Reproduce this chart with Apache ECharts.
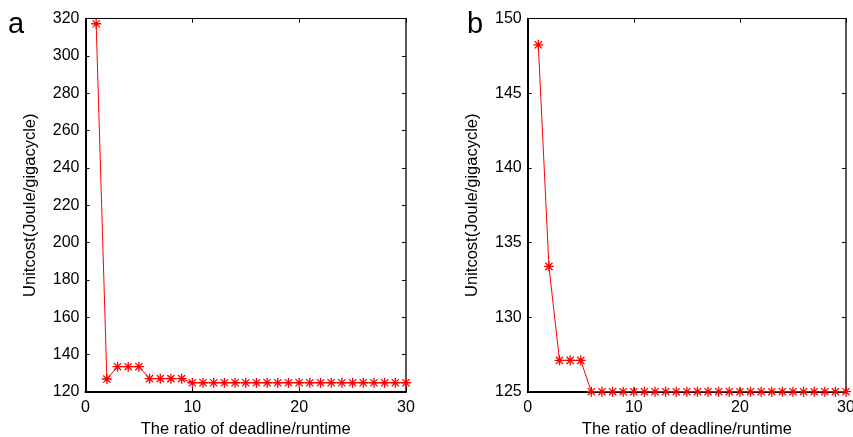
<!DOCTYPE html>
<html>
<head>
<meta charset="utf-8">
<script src="https://cdn.jsdelivr.net/npm/echarts@6/dist/echarts.min.js"></script>
<style>
  html, body { margin: 0; padding: 0; background: #fff; }
  #chart { width: 853px; height: 437px; }
</style>
</head>
<body>
<div id="chart"></div>
<script>
// ratio of deadline/runtime, 1..30
const ratios = [1, 2, 3, 4, 5, 6, 7, 8, 9, 10, 11, 12, 13, 14, 15, 16, 17, 18, 19, 20,
  21, 22, 23, 24, 25, 26, 27, 28, 29, 30];

// panel a
const costA = [317.3, 126.8, 133.4, 133.4, 133.4, 127, 127, 127, 127, 124.8, 124.8, 124.8, 124.8,
  124.8, 124.8, 124.8, 124.8, 124.8, 124.8, 124.8, 124.8, 124.8, 124.8, 124.8, 124.8, 124.8,
  124.8, 124.8, 124.8, 124.8];

// panel b
const costB = [148.25, 133.4, 127.1, 127.1, 127.1, 125, 125, 125, 125, 125, 125, 125, 125,
  125, 125, 125, 125, 125, 125, 125, 125, 125, 125, 125, 125, 125, 125, 125, 125, 125];

const xTitle = 'The ratio of deadline/runtime';
const yTitle = 'Unitcost(Joule/gigacycle)';

const FONT = 'Liberation Sans';
const star = 'path://M0,-5L0,5M-5,0L5,0M-3.6,-3.6L3.6,3.6M-3.6,3.6L3.6,-3.6';

const pair = (ys) => ratios.map((x, i) => [x, ys[i]]);

function xAx(gridIndex, top) {
  return {
    type: 'value', gridIndex: gridIndex, position: top ? 'top' : 'bottom',
    min: 0, max: 30, interval: 10,
    name: top ? '' : xTitle, nameLocation: 'middle', nameGap: 29,
    nameTextStyle: {fontFamily: FONT, fontSize: 16.5, color: '#000'},
    axisLine: {show: true, onZero: false, lineStyle: {color: '#000', width: top ? 1.2 : 2}},
    axisTick: {show: true, inside: true, length: 4, lineStyle: {color: '#000'}},
    axisLabel: {show: !top, fontFamily: FONT, fontSize: 16, color: '#000', margin: 8},
    splitLine: {show: false},
  };
}

function yAx(gridIndex, right, min, max, interval) {
  return {
    type: 'value', gridIndex: gridIndex, position: right ? 'right' : 'left',
    min: min, max: max, interval: interval,
    name: right ? '' : yTitle, nameLocation: 'middle', nameGap: 47,
    nameRotate: 90,
    nameTextStyle: {fontFamily: FONT, fontSize: 16.5, color: '#000'},
    axisLine: {show: true, onZero: false, lineStyle: {color: right ? '#222' : '#000', width: right ? 1.5 : 2}},
    axisTick: {show: true, inside: true, length: 4, lineStyle: {color: '#000'}},
    axisLabel: {show: !right, fontFamily: FONT, fontSize: 16, color: '#000', margin: 6},
    splitLine: {show: false},
  };
}

function line(xi, yi, ys) {
  return {
    type: 'line', xAxisIndex: xi, yAxisIndex: yi,
    data: pair(ys),
    symbol: star, symbolSize: 10,
    lineStyle: {color: '#ff0000', width: 1},
    itemStyle: {color: '#ff0000', borderColor: '#ff0000', borderWidth: 1.3},
    animation: false,
  };
}

const chart = echarts.init(document.getElementById('chart'));
chart.setOption({
  animation: false,
  grid: [
    {left: 85.5, top: 18.7, width: 320.5, height: 373, outerBoundsMode: 'none', containLabel: false},
    {left: 527.7, top: 18.7, width: 318.3, height: 373, outerBoundsMode: 'none', containLabel: false},
  ],
  xAxis: [xAx(0, false), xAx(0, true), xAx(1, false), xAx(1, true)],
  yAxis: [yAx(0, false, 120, 320, 20), yAx(0, true, 120, 320, 20),
    yAx(1, false, 125, 150, 5), yAx(1, true, 125, 150, 5)],
  series: [line(0, 0, costA), line(2, 2, costB)],
  graphic: [
    {type: 'text', left: 8, top: 10, style: {text: 'a', fontFamily: FONT, fontSize: 29, fill: '#000'}},
    {type: 'text', left: 467, top: 10, style: {text: 'b', fontFamily: FONT, fontSize: 29, fill: '#000'}},
  ],
});
</script>
</body>
</html>
